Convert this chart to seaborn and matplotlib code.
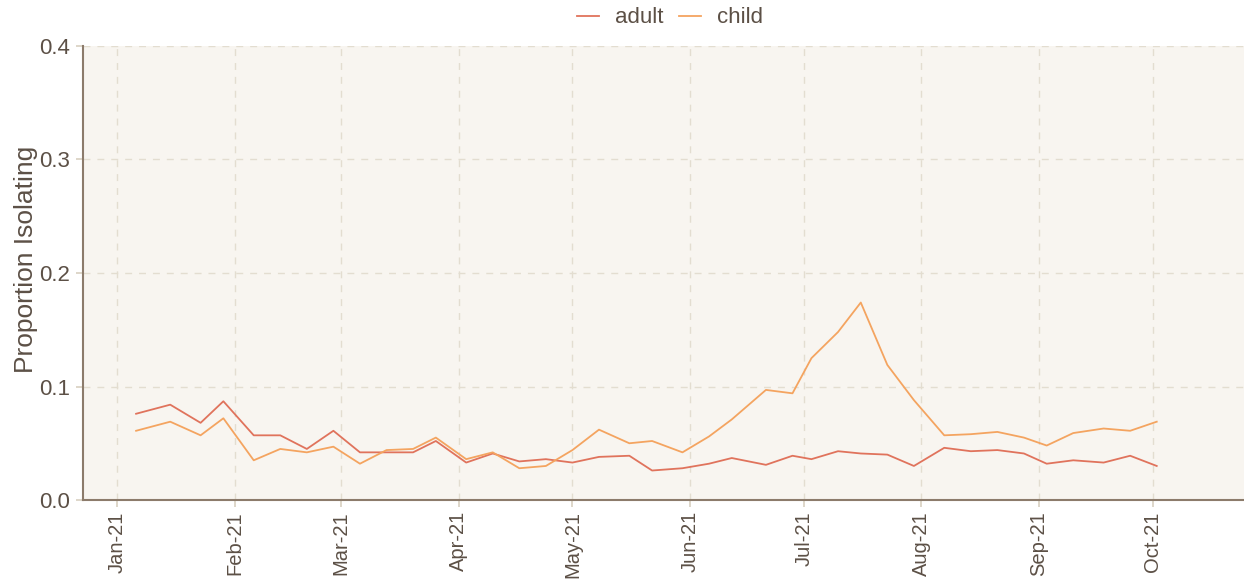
import pandas as pd
import seaborn as sns
import matplotlib.pyplot as plt
import matplotlib.dates as mdates

# Weekly proportion isolating
dates = ['2021-01-06', '2021-01-15', '2021-01-23', '2021-01-29', '2021-02-06',
         '2021-02-13', '2021-02-20', '2021-02-27', '2021-03-06', '2021-03-13',
         '2021-03-20', '2021-03-26', '2021-04-03', '2021-04-10', '2021-04-17',
         '2021-04-24', '2021-05-01', '2021-05-08', '2021-05-16', '2021-05-22',
         '2021-05-30', '2021-06-06', '2021-06-12', '2021-06-21', '2021-06-28',
         '2021-07-03', '2021-07-10', '2021-07-16', '2021-07-23', '2021-07-30',
         '2021-08-07', '2021-08-14', '2021-08-21', '2021-08-28', '2021-09-03',
         '2021-09-10', '2021-09-18', '2021-09-25', '2021-10-02']

adult = [0.076, 0.084, 0.068, 0.087, 0.057, 0.057, 0.045, 0.061, 0.042, 0.042,
         0.042, 0.052, 0.033, 0.041, 0.034, 0.036, 0.033, 0.038, 0.039, 0.026,
         0.028, 0.032, 0.037, 0.031, 0.039, 0.036, 0.043, 0.041, 0.040, 0.030,
         0.046, 0.043, 0.044, 0.041, 0.032, 0.035, 0.033, 0.039, 0.030]

child = [0.061, 0.069, 0.057, 0.072, 0.035, 0.045, 0.042, 0.047, 0.032, 0.044,
         0.045, 0.055, 0.036, 0.042, 0.028, 0.030, 0.044, 0.062, 0.050, 0.052,
         0.042, 0.056, 0.071, 0.097, 0.094, 0.125, 0.148, 0.174, 0.119, 0.088,
         0.057, 0.058, 0.060, 0.055, 0.048, 0.059, 0.063, 0.061, 0.069]

groups = ['adult', 'child']
colors = ['#E0735C', '#F4A460']

df = pd.DataFrame({
    'date': pd.to_datetime(dates * 2),
    'prop': adult + child,
    'group': ['adult'] * len(dates) + ['child'] * len(dates),
})

text_col = '#5C5046'
plt.rcParams['font.family'] = ['Liberation Sans', 'DejaVu Sans']

fig = plt.figure(figsize=(12.44, 5.79), dpi=100)
ax = fig.add_axes([0.0667, 0.1364, 0.9333, 0.7842])
ax.set_facecolor('#F8F5F0')

sns.lineplot(data=df, x='date', y='prop', hue='group', hue_order=groups,
             palette=colors, linewidth=1.3, ax=ax)

ax.set_xlim(pd.Timestamp('2020-12-23'), pd.Timestamp('2021-10-25'))
ax.set_ylim(0, 0.4)
ax.set_yticks([0.0, 0.1, 0.2, 0.3, 0.4])
ax.yaxis.set_major_formatter(plt.FormatStrFormatter('%.1f'))
ax.xaxis.set_major_locator(mdates.MonthLocator())
ax.xaxis.set_major_formatter(mdates.DateFormatter('%b-%y'))
plt.setp(ax.get_xticklabels(), rotation=90)

ax.grid(True, linestyle=(0, (5, 5)), color='#E3DDD0', linewidth=1.0)
ax.set_axisbelow(True)
for side in ['top', 'right']:
    ax.spines[side].set_visible(False)
for side in ['left', 'bottom']:
    ax.spines[side].set_color('#8C7B6B')
    ax.spines[side].set_linewidth(1.5)
ax.tick_params(axis='both', colors='#D8D0C0', labelcolor=text_col,
               length=5, width=1.2)
ax.tick_params(axis='x', labelsize=14.5, pad=3)
ax.tick_params(axis='y', labelsize=16, pad=4)

ax.set_xlabel('')
ax.set_ylabel('Proportion Isolating', fontsize=19, color=text_col)
ax.yaxis.set_label_coords(-0.039, 0.529)

leg = ax.legend(loc='center', bbox_to_anchor=(0.5056, 1.062), ncol=2,
                frameon=False, fontsize=16, handlelength=1.0,
                handletextpad=0.7, columnspacing=0.7)
for t in leg.get_texts():
    t.set_color(text_col)

fig.savefig('out.png', dpi=100)
